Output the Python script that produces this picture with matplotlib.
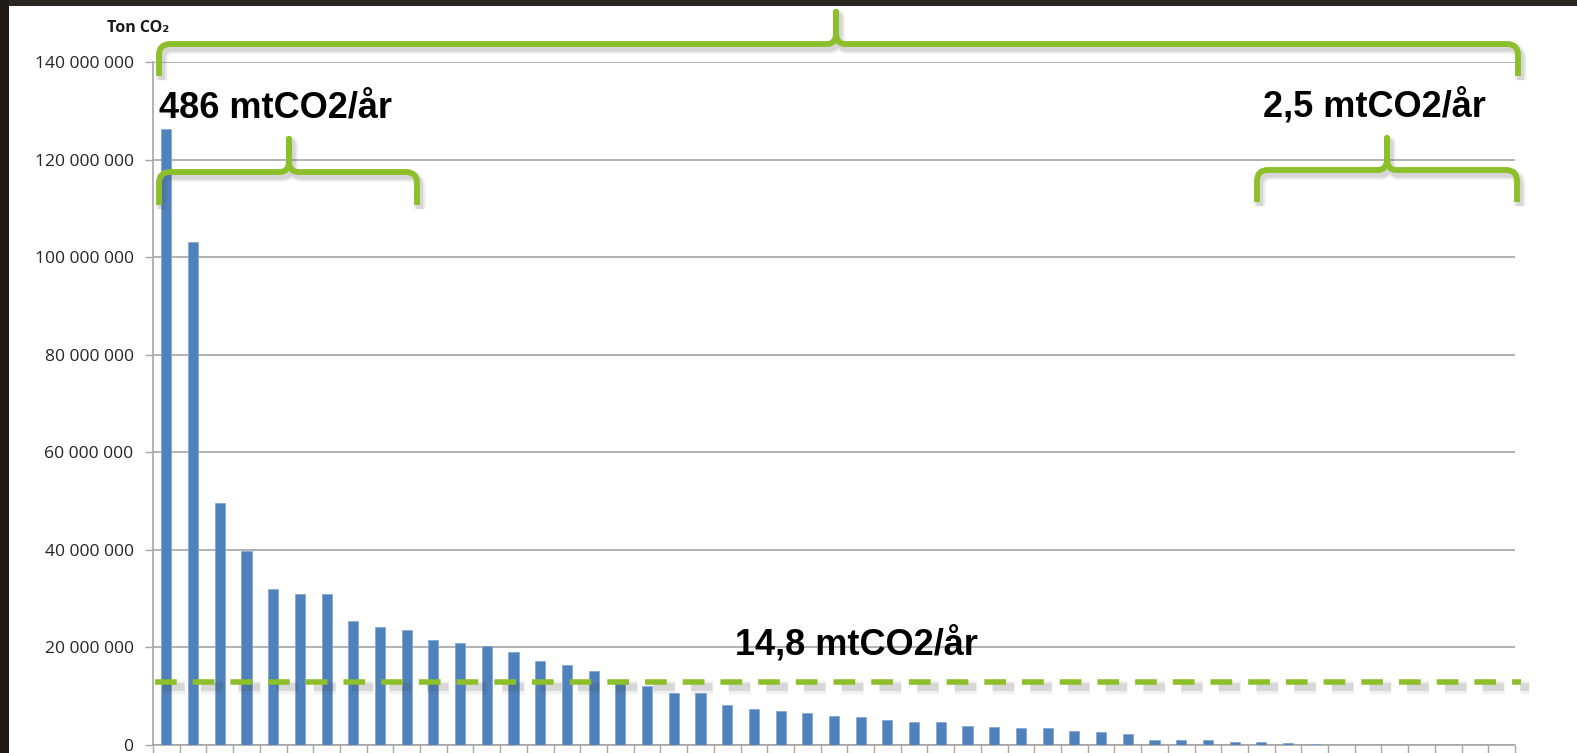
import matplotlib
matplotlib.use("Agg")
import matplotlib.pyplot as plt
import matplotlib.patheffects as pe
from matplotlib.path import Path
from matplotlib.patches import PathPatch, Rectangle
from matplotlib.ticker import FuncFormatter, FixedLocator

# ---- data (million tonnes CO2 per source, sorted) ----
emissions_mt = [126.4, 103.1, 49.6, 39.7, 31.9, 30.9, 30.9, 25.5, 24.3, 23.5,
                21.5, 20.9, 20.4, 19.0, 17.2, 16.4, 15.1, 13.3, 12.1, 10.7,
                10.7, 8.3, 7.4, 7.0, 6.6, 6.0, 5.8, 5.1, 4.7, 4.7,
                3.8, 3.6, 3.5, 3.5, 2.9, 2.7, 2.3, 1.0, 1.0, 1.0,
                0.7, 0.7, 0.5, 0.15, 0, 0, 0, 0, 0, 0, 0]
values = [v * 1e6 for v in emissions_mt]
average_line = 13.0e6
y_ticks = [0, 20e6, 40e6, 60e6, 80e6, 100e6, 120e6, 140e6]
label_left = "486 mtCO2/år"
label_right = "2,5 mtCO2/år"
label_mid = "14,8 mtCO2/år"
y_title = "Ton CO₂"

W, H = 1577, 753
fig = plt.figure(figsize=(W / 100, H / 100), dpi=100, facecolor="white")

def fx(x):
    return x / W

def fy(y):
    return 1 - y / H

# dark photo border
fig.patches.append(Rectangle((0, fy(6)), 1, 6 / H, transform=fig.transFigure,
                             facecolor="#2b2623", edgecolor="none", zorder=0))
fig.patches.append(Rectangle((0, 0), 9 / W, 1, transform=fig.transFigure,
                             facecolor="#1e1a18", edgecolor="none", zorder=0))

ax_l, ax_r, ax_t, ax_b = 153, 1515, 62.3, 745
ax = fig.add_axes([fx(ax_l), fy(ax_b), (ax_r - ax_l) / W, (ax_b - ax_t) / H])
ax.set_facecolor("white")

n = len(values)
xs = list(range(n))
ax.bar(xs, values, width=0.38, color="#4F81BD", edgecolor="#7fa3d3",
       linewidth=0.5, zorder=3)
ax.set_xlim(-0.5, n - 0.5)
ax.set_ylim(0, 140e6)

ax.yaxis.set_major_locator(FixedLocator(y_ticks))
ax.yaxis.set_major_formatter(FuncFormatter(lambda v, p: f"{int(v):,}".replace(",", " ")))
ax.grid(axis="y", color="#a6a6a6", linewidth=1.2, zorder=1)
ax.set_axisbelow(True)
ax.xaxis.set_major_locator(FixedLocator([i - 0.5 for i in range(n + 1)]))
ax.set_xticklabels([])
ax.tick_params(axis="x", length=7, width=1, color="#a6a6a6", direction="out")
ax.tick_params(axis="y", length=6, width=1, color="#a6a6a6", direction="out",
               pad=8, labelsize=12.6, labelcolor="#262626")
for lab in ax.get_yticklabels():
    lab.set_fontfamily("Open Sans")
for s in ["top", "right"]:
    ax.spines[s].set_visible(False)
for s in ["left", "bottom"]:
    ax.spines[s].set_color("#a6a6a6")
    ax.spines[s].set_linewidth(1.2)

green = "#8CBF2A"

# dashed average line
lw_d = 4.0
x_start = (155 - ax_l) / ((ax_r - ax_l) / n) - 0.5
x_end = (1521 - ax_l) / ((ax_r - ax_l) / n) - 0.5
shadow_fx = [pe.SimpleLineShadow(offset=(6, -4), shadow_color="#444444", alpha=0.08,
                                 linewidth=lw_d * 2.4),
             pe.SimpleLineShadow(offset=(6, -4), shadow_color="#444444", alpha=0.14,
                                 linewidth=lw_d * 1.4),
             pe.Normal()]
ax.plot([x_start, x_end], [average_line, average_line], color=green, lw=lw_d,
        dashes=(21.7 / 1.389 / lw_d, 16 / 1.389 / lw_d), clip_on=False, zorder=5,
        solid_capstyle="butt", dash_capstyle="butt", path_effects=shadow_fx)

# curly braces (pixel coordinates of the picture)
def brace(x0, x1, xm, yh, yend, ypeak, r=11, s=9):
    pts = [(x0, yend), (x0, yh + r), (x0, yh), (x0 + r, yh),
           (xm - s, yh), (xm, yh), (xm, yh - 11), (xm, ypeak),
           (xm, yh - 11), (xm, yh), (xm + s, yh),
           (x1 - r, yh), (x1, yh), (x1, yh + r), (x1, yend)]
    codes = [Path.MOVETO, Path.LINETO, Path.CURVE3, Path.CURVE3,
             Path.LINETO, Path.CURVE3, Path.CURVE3, Path.LINETO,
             Path.LINETO, Path.CURVE3, Path.CURVE3,
             Path.LINETO, Path.CURVE3, Path.CURVE3, Path.LINETO]
    verts = [(fx(x), fy(y)) for x, y in pts]
    patch = PathPatch(Path(verts, codes), transform=fig.transFigure, fill=False,
                      edgecolor=green, linewidth=4.2, capstyle="butt",
                      joinstyle="round", zorder=6,
                      path_effects=[pe.SimpleLineShadow(offset=(2, -3),
                                                        shadow_color="#555555",
                                                        alpha=0.10, linewidth=8),
                                    pe.SimpleLineShadow(offset=(2, -3),
                                                        shadow_color="#555555",
                                                        alpha=0.15, linewidth=5),
                                    pe.Normal()])
    fig.patches.append(patch)

brace(159, 1518, 836, 44, 76, 12)
brace(159, 417, 289, 172, 205, 139)
brace(1257, 1517, 1387, 170, 202, 138)

# texts
big = dict(fontsize=26, fontweight="bold", family=["Liberation Sans", "DejaVu Sans"],
           color="black", ha="left", va="baseline", zorder=10)
fig.text(fx(159), fy(118), label_left, **big)
fig.text(fx(1263), fy(117), label_right, **big)
fig.text(fx(735), fy(655), label_mid, **big)
fig.text(fx(107), fy(28), y_title, fontsize=11.5, fontweight="bold",
         family=["Open Sans", "DejaVu Sans"], color="#1a1a1a", ha="left", va="center")

fig.savefig("out.png", dpi=100, facecolor="white")
